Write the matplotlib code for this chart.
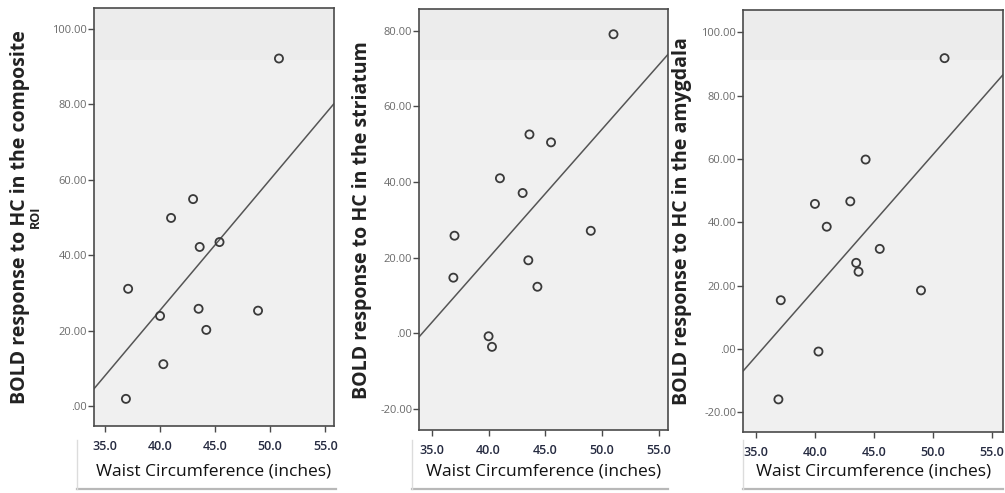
import matplotlib
matplotlib.use("Agg")
import matplotlib.pyplot as plt
from matplotlib.patches import Rectangle
from matplotlib.lines import Line2D
from matplotlib.ticker import FuncFormatter, FixedLocator
import numpy as np

# ---- data ----
waist_composite = [50.8, 43.0, 41.0, 43.6, 45.4, 37.1, 40.0, 43.5, 44.2, 48.9, 40.3, 36.9]
bold_composite = [92.2, 54.9, 49.9, 42.2, 43.5, 31.1, 23.9, 25.8, 20.2, 25.3, 11.1, 1.9]

waist_striatum = [51.0, 43.6, 45.5, 41.0, 43.0, 37.0, 49.0, 36.9, 43.5, 44.3, 40.0, 40.3]
bold_striatum = [79.1, 52.6, 50.5, 41.0, 37.1, 25.8, 27.1, 14.7, 19.3, 12.3, -0.8, -3.6]

waist_amygdala = [51.0, 44.3, 43.0, 40.0, 41.0, 45.5, 43.5, 43.7, 37.1, 49.0, 40.3, 36.9]
bold_amygdala = [91.8, 59.8, 46.6, 45.8, 38.6, 31.6, 27.2, 24.4, 15.4, 18.5, -0.8, -15.9]

fit_slope = [3.47, 3.41, 4.24]
fit_intercept = [-113.4, -116.5, -150.7]

x_ticks = [35.0, 40.0, 45.0, 50.0, 55.0]
y_ticks_composite = [0, 20, 40, 60, 80, 100]
y_ticks_striatum = [-20, 0, 20, 40, 60, 80]
y_ticks_amygdala = [-20, 0, 20, 40, 60, 80, 100]

y_labels = ["BOLD response to HC in the composite",
            "BOLD response to HC in the striatum",
            "BOLD response to HC in the amygdala"]
y_label_extra = "ROI"
x_label = "Waist Circumference (inches)"

# ---- layout (pixels) ----
W, H = 1005, 493
fig = plt.figure(figsize=(W / 100, H / 100), dpi=100)
fig.patch.set_facecolor("white")

def px_rect(l, t, r, b):
    return [l / W, 1 - b / H, (r - l) / W, (b - t) / H]

panels = [
    dict(rect=(94, 8, 334, 426), xlim=(34.0, 55.8), ylim=(-5.3, 105.6),
         x=waist_composite, y=bold_composite, yt=y_ticks_composite,
         ylab_x=20, box=(77, 336)),
    dict(rect=(419.3, 9.3, 668, 430), xlim=(33.9, 55.8), ylim=(-25.6, 85.7),
         x=waist_striatum, y=bold_striatum, yt=y_ticks_striatum,
         ylab_x=362, box=(412, 668)),
    dict(rect=(743.3, 10, 1003, 431.7), xlim=(33.92, 55.96), ylim=(-26.1, 107.0),
         x=waist_amygdala, y=bold_amygdala, yt=y_ticks_amygdala,
         ylab_x=682, box=(743, 1003)),
]

def yfmt(v, pos):
    s = f"{v:.2f}"
    if s.startswith("0"):
        s = s[1:]
    elif s.startswith("-0"):
        s = "-" + s[2:]
    return s

for i, p in enumerate(panels):
    l, t, r, b = p["rect"]
    # x-label box (white with shadowed edges)
    bl, br = p["box"]
    bt, bb = 440, 489
    fig.add_artist(Line2D([bl / W, br / W], [1 - bb / H, 1 - bb / H],
                          color="#b8b8b8", lw=1.6, transform=fig.transFigure))
    fig.add_artist(Line2D([bl / W, bl / W], [1 - bt / H, 1 - bb / H],
                          color="#dcdcdc", lw=1.0, transform=fig.transFigure))

    ax = fig.add_axes(px_rect(l, t, r, b))
    ax.set_facecolor("#f0f0f0")
    # subtle top band
    ax.add_patch(Rectangle((0, 1 - (60 - t) / (b - t)), 1, (60 - t) / (b - t),
                           transform=ax.transAxes, facecolor="#ececec",
                           edgecolor="none", zorder=0))
    ax.set_xlim(*p["xlim"])
    ax.set_ylim(*p["ylim"])
    ax.scatter(p["x"], p["y"], s=34, facecolors="none", edgecolors="#3a3a3a",
               linewidths=1.3, zorder=3)
    xx = np.array(p["xlim"])
    ax.plot(xx, fit_slope[i] * xx + fit_intercept[i], color="#555555", lw=1.1, zorder=2)

    for s in ax.spines.values():
        s.set_color("#4a4a4a")
        s.set_linewidth(1.2)
    ax.xaxis.set_major_locator(FixedLocator(x_ticks))
    ax.yaxis.set_major_locator(FixedLocator(p["yt"]))
    ax.xaxis.set_major_formatter(FuncFormatter(lambda v, pos: f"{v:.1f}"))
    ax.yaxis.set_major_formatter(FuncFormatter(yfmt))
    ax.tick_params(axis="y", direction="out", length=4, width=1, color="#4a4a4a",
                   labelsize=8, labelcolor="#6a6a6a", pad=1)
    ax.tick_params(axis="x", direction="out", length=4, width=1, color="#4a4a4a",
                   labelsize=9, labelcolor="#252a40", pad=6)
    for lab in ax.get_xticklabels():
        lab.set_fontfamily("Open Sans")
        lab.set_fontweight("semibold")
    for lab in ax.get_yticklabels():
        lab.set_fontfamily("Open Sans")

    cx = (l + r) / 2
    fig.text(cx / W, 1 - 471 / H, x_label, ha="center", va="center",
             fontsize=12.5, fontfamily="Open Sans", color="#111111")
    cy = (t + b) / 2
    fig.text(p["ylab_x"] / W, 1 - cy / H, y_labels[i], rotation=90,
             ha="center", va="center",
             fontsize=14, fontweight="bold", fontfamily="Open Sans",
             color="#222222")
    if i == 0:
        fig.text(35 / W, 1 - cy / H, y_label_extra, rotation=90,
                 ha="center", va="center",
                 fontsize=9, fontweight="bold", fontfamily="Open Sans",
                 color="#222222")

fig.savefig("out.png", dpi=100)
